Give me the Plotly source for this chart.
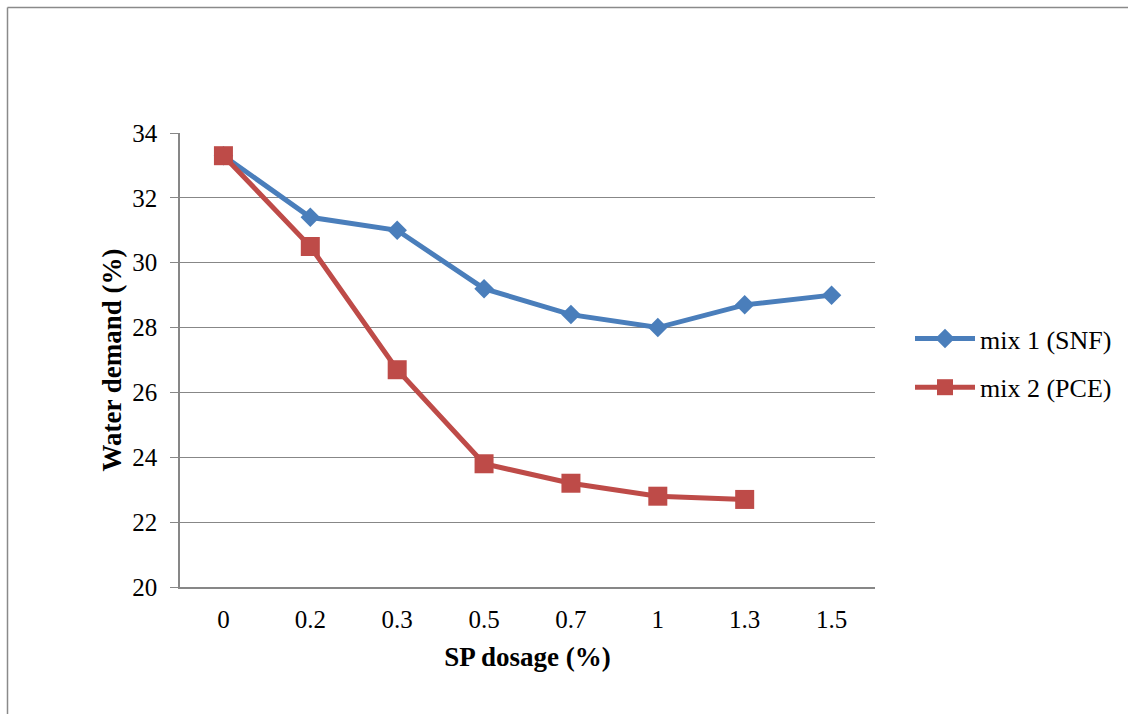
import plotly.graph_objects as go

categories = ["0", "0.2", "0.3", "0.5", "0.7", "1", "1.3", "1.5"]
mix1_snf = [33.3, 31.4, 31.0, 29.2, 28.4, 28.0, 28.7, 29.0]
mix2_pce = [33.3, 30.5, 26.7, 23.8, 23.2, 22.8, 22.7]
y_ticks = [20, 22, 24, 26, 28, 30, 32, 34]

BLUE = "#4A7EBB"
RED = "#BE4B48"
GRID = "#878787"
FONT = "Liberation Serif, Times New Roman, serif"
FS = 25
FS_TITLE = 27
FS_LEG = 26

fig = go.Figure()
fig.add_trace(go.Scatter(
    x=categories, y=mix1_snf, name="mix 1 (SNF)", mode="lines+markers",
    legendgroup="g1",
    line=dict(color=BLUE, width=5),
    marker=dict(symbol="diamond", size=15, color=BLUE),
))
fig.add_trace(go.Scatter(
    x=categories[:len(mix2_pce)], y=mix2_pce, name="mix 2 (PCE)", mode="lines+markers",
    legendgroup="g2",
    line=dict(color=RED, width=5),
    marker=dict(symbol="square", size=19, color=RED),
))

L, R, T, B = 180, 875, 133, 587
W, H = 1128, 714
pw, ph = R - L, B - T

def px(x):
    return (x - L) / pw

def py(y):
    return (B - y) / ph

fig.update_layout(
    width=W, height=H,
    margin=dict(l=L, r=W - R, t=T, b=H - B, autoexpand=False),
    paper_bgcolor="white", plot_bgcolor="white",
    font=dict(family=FONT, size=FS, color="black"),
    showlegend=True,
    legend=dict(x=px(910), y=py(363), xanchor="left", yanchor="middle",
                font=dict(family=FONT, size=FS_LEG), tracegroupgap=12,
                traceorder="grouped",
                itemwidth=60, bgcolor="rgba(0,0,0,0)"),
    xaxis=dict(
        type="category", categoryorder="array", categoryarray=categories,
        range=[-0.5, len(categories) - 0.5],
        showline=True, linecolor=GRID, linewidth=1.5,
        showgrid=False, zeroline=False,
        ticks="outside", ticklen=9, tickcolor="rgba(0,0,0,0)",
        tickfont=dict(family=FONT, size=FS),
        title=dict(text="<b>SP dosage (%)</b>", font=dict(family=FONT, size=FS_TITLE), standoff=15),
    ),
    yaxis=dict(
        range=[20, 34], tickvals=y_ticks,
        showline=True, linecolor=GRID, linewidth=1.5,
        showgrid=True, gridcolor=GRID, gridwidth=1,
        zeroline=False,
        ticks="outside", ticklen=8, tickcolor=GRID,
        tickfont=dict(family=FONT, size=FS),
        ticklabelstandoff=8,
        title=dict(text="<b>Water demand (%)</b>", font=dict(family=FONT, size=FS_TITLE), standoff=3),
    ),
    shapes=[
        dict(type="line", xref="paper", yref="paper",
             x0=px(7.5), x1=px(1140), y0=py(7.5), y1=py(7.5),
             line=dict(color="#8a8a8a", width=1.5)),
        dict(type="line", xref="paper", yref="paper",
             x0=px(7.5), x1=px(7.5), y0=py(7.5), y1=py(730),
             line=dict(color="#8a8a8a", width=1.5)),
    ],
)

fig.write_html("out.html")
